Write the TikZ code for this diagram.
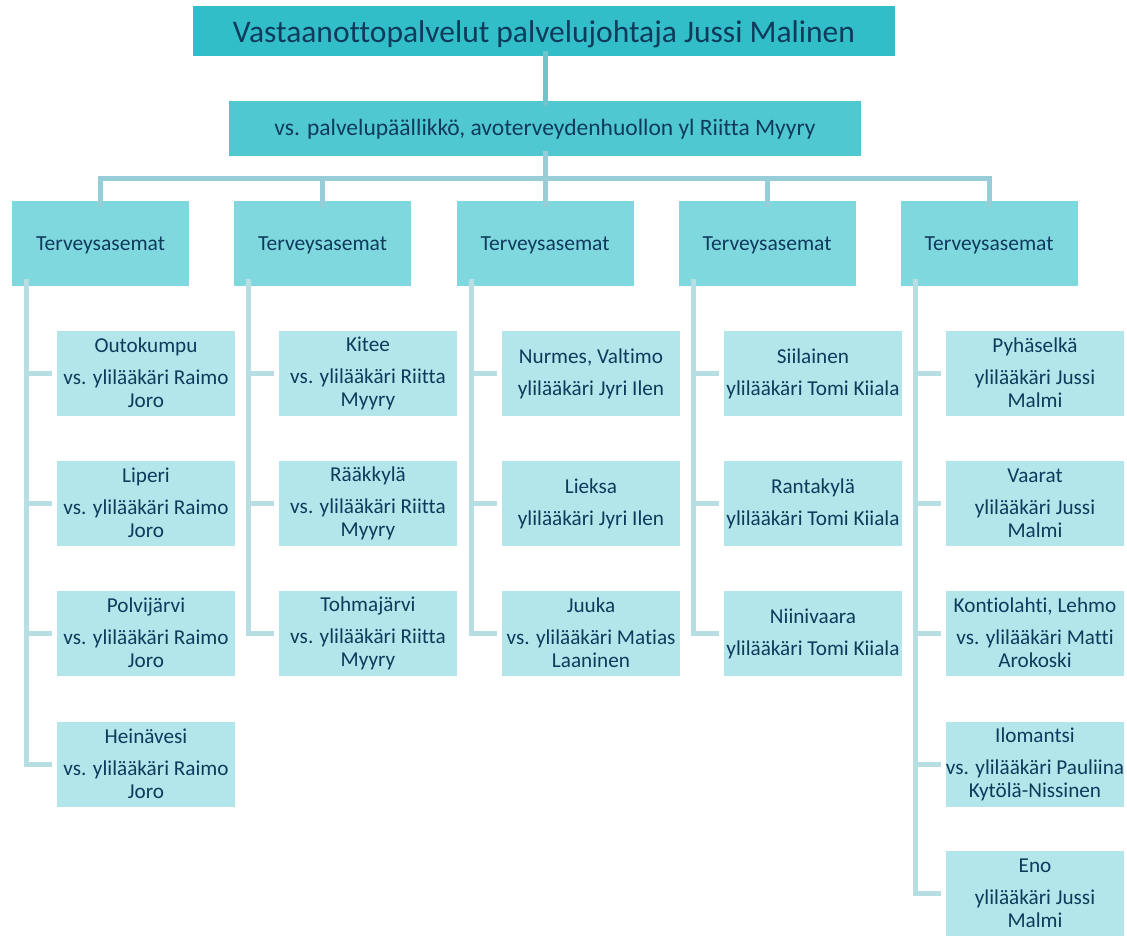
\documentclass[tikz,border=0pt]{standalone}
\usepackage{fontspec}
\setmainfont{Carlito}[Ligatures=NoCommon]

\definecolor{topteal}{HTML}{32BEC9}
\definecolor{midteal}{HTML}{4FC8D1}
\definecolor{groupteal}{HTML}{80D8DF}
\definecolor{unitteal}{HTML}{B3E6EA}
\definecolor{textnavy}{HTML}{0E3A5C}
\definecolor{toplink}{HTML}{6FC3CC}
\definecolor{buslink}{HTML}{97CDD6}
\definecolor{sidelink}{HTML}{B7DEE3}

\begin{document}
\begin{tikzpicture}[x=1pt,y=-1pt,
  box/.style 2 args={inner sep=0pt, text=textnavy, align=center,
    execute at begin node={\rule{0pt}{#1}}, execute at end node={\rule[-#2]{0pt}{#2}}},
  headbox/.style={box={29pt}{6pt}, fill=topteal, minimum width=702pt, minimum height=50pt, font=\fontsize{31.5}{35}\selectfont},
  chiefbox/.style={box={19.2pt}{6.8pt}, fill=midteal, minimum width=632pt, minimum height=55pt, font=\fontsize{23.5}{26}\selectfont},
  groupbox/.style={box={18.1pt}{4.9pt}, fill=groupteal, minimum width=177pt, minimum height=85pt, font=\fontsize{21.5}{23}\selectfont},
  unitbox/.style={box={23.1pt}{0.9pt}, fill=unitteal, minimum width=178pt, minimum height=85pt, font=\fontsize{21.2}{23}\selectfont},
  toplink/.style={draw=toplink, line width=5pt},
  buslink/.style={draw=buslink, line width=5pt},
  sidelink/.style={draw=sidelink, line width=5pt}]
  \useasboundingbox (0,0) rectangle (1127,936);

  % top of the chart
  \node[headbox] (head) at (544,31.5) {Vastaanottopalvelut palvelujohtaja Jussi Malinen};
  \node[chiefbox] (chief) at (545,129) {vs. palvelupäällikkö, avoterveydenhuollon yl Riitta Myyry};
  \draw[toplink] ([yshift=6pt]head.south -| chief.north) -- ([yshift=-5pt]chief.north);

  % Terveysasemat groups
  \node[groupbox] (g1) at (100.5,243.5) {Terveysasemat};
  \node[groupbox] (g2) at (322.5,243.5) {Terveysasemat};
  \node[groupbox] (g3) at (545,243.5) {Terveysasemat};
  \node[groupbox] (g4) at (767,243.5) {Terveysasemat};
  \node[groupbox] (g5) at (989,243.5) {Terveysasemat};

  \coordinate (bus) at (545,178.5);
  \draw[buslink] ([yshift=6pt]chief.south) -- ([yshift=-6pt]chief.south |- g3.north);
  \draw[buslink] ([yshift=-6pt]g1.north) -- (g1.north |- bus) -- (g5.north |- bus) -- ([yshift=-6pt]g5.north);
  \draw[buslink] ([yshift=-6pt]g2.north) -- (g2.north |- bus);
  \draw[buslink] ([yshift=-6pt]g4.north) -- (g4.north |- bus);

  % units, first column
  \node[unitbox] (u11) at (146,373.5) {Outokumpu\\[9pt]vs. ylilääkäri Raimo\\Joro};
  \node[unitbox] (u12) at (146,503.5) {Liperi\\[9pt]vs. ylilääkäri Raimo\\Joro};
  \node[unitbox] (u13) at (146,633.5) {Polvijärvi\\[9pt]vs. ylilääkäri Raimo\\Joro};
  \node[unitbox] (u14) at (146,764) {Heinävesi\\[9pt]vs. ylilääkäri Raimo\\Joro};

  % second column
  \node[unitbox] (u21) at (368,373.5) {Kitee\\[9pt]vs. ylilääkäri Riitta\\Myyry};
  \node[unitbox] (u22) at (368,503.5) {Rääkkylä\\[9pt]vs. ylilääkäri Riitta\\Myyry};
  \node[unitbox] (u23) at (368,633.5) {Tohmajärvi\\[9pt]vs. ylilääkäri Riitta\\Myyry};

  % third column
  \node[unitbox] (u31) at (591,373.5) {Nurmes, Valtimo\\[9pt]ylilääkäri Jyri Ilen};
  \node[unitbox] (u32) at (591,503.5) {Lieksa\\[9pt]ylilääkäri Jyri Ilen};
  \node[unitbox] (u33) at (591,633.5) {Juuka\\[9pt]vs. ylilääkäri Matias\\Laaninen};

  % fourth column
  \node[unitbox] (u41) at (813,373.5) {Siilainen\\[9pt]ylilääkäri Tomi Kiiala};
  \node[unitbox] (u42) at (813,503.5) {Rantakylä\\[9pt]ylilääkäri Tomi Kiiala};
  \node[unitbox] (u43) at (813,633.5) {Niinivaara\\[9pt]ylilääkäri Tomi Kiiala};

  % fifth column
  \node[unitbox] (u51) at (1035,373.5) {Pyhäselkä\\[9pt]ylilääkäri Jussi\\Malmi};
  \node[unitbox] (u52) at (1035,503.5) {Vaarat\\[9pt]ylilääkäri Jussi\\Malmi};
  \node[unitbox] (u53) at (1035,633.5) {Kontiolahti, Lehmo\\[9pt]vs. ylilääkäri Matti\\Arokoski};
  \node[unitbox] (u54) at (1035,764) {Ilomantsi\\[9pt]vs. ylilääkäri Pauliina\\Kytölä-Nissinen};
  \node[unitbox] (u55) at (1035,893.5) {Eno\\[9pt]ylilääkäri Jussi\\Malmi};

  % side links
  \coordinate (s1) at ([xshift=15pt,yshift=7pt]g1.south west);
  \coordinate (s2) at ([xshift=15pt,yshift=7pt]g2.south west);
  \coordinate (s3) at ([xshift=15pt,yshift=7pt]g3.south west);
  \coordinate (s4) at ([xshift=15pt,yshift=7pt]g4.south west);
  \coordinate (s5) at ([xshift=15pt,yshift=7pt]g5.south west);

  \draw[sidelink] (s1) |- ([xshift=-5pt]u14.west);
  \draw[sidelink] (s1 |- u11.west) -- ([xshift=-5pt]u11.west);
  \draw[sidelink] (s1 |- u12.west) -- ([xshift=-5pt]u12.west);
  \draw[sidelink] (s1 |- u13.west) -- ([xshift=-5pt]u13.west);

  \draw[sidelink] (s2) |- ([xshift=-5pt]u23.west);
  \draw[sidelink] (s2 |- u21.west) -- ([xshift=-5pt]u21.west);
  \draw[sidelink] (s2 |- u22.west) -- ([xshift=-5pt]u22.west);

  \draw[sidelink] (s3) |- ([xshift=-5pt]u33.west);
  \draw[sidelink] (s3 |- u31.west) -- ([xshift=-5pt]u31.west);
  \draw[sidelink] (s3 |- u32.west) -- ([xshift=-5pt]u32.west);

  \draw[sidelink] (s4) |- ([xshift=-5pt]u43.west);
  \draw[sidelink] (s4 |- u41.west) -- ([xshift=-5pt]u41.west);
  \draw[sidelink] (s4 |- u42.west) -- ([xshift=-5pt]u42.west);

  \draw[sidelink] (s5) |- ([xshift=-5pt]u55.west);
  \draw[sidelink] (s5 |- u51.west) -- ([xshift=-5pt]u51.west);
  \draw[sidelink] (s5 |- u52.west) -- ([xshift=-5pt]u52.west);
  \draw[sidelink] (s5 |- u53.west) -- ([xshift=-5pt]u53.west);
  \draw[sidelink] (s5 |- u54.west) -- ([xshift=-5pt]u54.west);
\end{tikzpicture}
\end{document}
